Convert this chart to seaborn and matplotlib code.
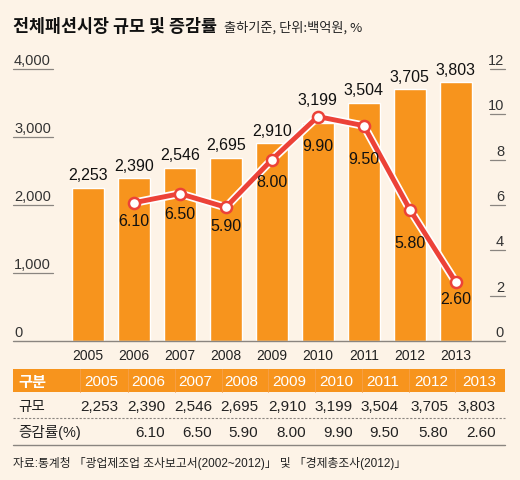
import matplotlib
matplotlib.use("Agg")
import matplotlib.pyplot as plt
import seaborn as sns
import pandas as pd
from matplotlib.patches import Rectangle
from matplotlib.lines import Line2D

# data
years = ["2005", "2006", "2007", "2008", "2009", "2010", "2011", "2012", "2013"]
size = [2253, 2390, 2546, 2695, 2910, 3199, 3504, 3705, 3803]
growth_years = ["2006", "2007", "2008", "2009", "2010", "2011", "2012", "2013"]
growth = [6.10, 6.50, 5.90, 8.00, 9.90, 9.50, 5.80, 2.60]
left_ticks = [0, 1000, 2000, 3000, 4000]
right_ticks = [0, 2, 4, 6, 8, 10, 12]

title = "전체패션시장 규모 및 증감률"
subtitle = "출하기준, 단위:백억원, %"
row_labels = ["구분", "규모", "증감률(%)"]
source = "자료:통계청 「광업제조업 조사보고서(2002~2012)」 및 「경제총조사(2012)」"

BG = "#fdf3e7"
ORANGE = "#f7941d"
RED = "#ec4238"
GRAY = "#8a8580"

sns.set_theme(style="white")
plt.rcParams["font.family"] = ["Liberation Sans", "Noto Sans CJK KR", "DejaVu Sans"]
KR = ["Noto Sans CJK KR", "DejaVu Sans"]

df = pd.DataFrame({"year": years, "size": size})
gdf = pd.DataFrame({"year": growth_years, "growth": growth})
gdf["pos"] = [years.index(y) for y in growth_years]

W, H = 520, 481
fig = plt.figure(figsize=(W / 100, H / 100), dpi=100)
fig.patch.set_facecolor(BG)

def fx(px):
    return px / W

def fy(py):
    return 1 - py / H

# plot area: x 13..505, y 70..342 (pixels from top)
ax = fig.add_axes([fx(13), fy(342), fx(492), 272 / H])
ax.set_facecolor("none")
sns.barplot(data=df, x="year", y="size", color=ORANGE, saturation=1,
            width=0.7, ax=ax, zorder=2)
ax.set_xlim(-1.63, 9.07)
ax.set_ylim(0, 4000)
for s in ax.spines.values():
    s.set_visible(False)
ax.set_yticks([])
ax.set_xlabel("")
ax.set_ylabel("")
ax.tick_params(axis="x", length=0, pad=5, labelsize=10, colors="#222222")

# bar value labels; the 2010 one sits a bit higher to clear the line marker
for i, v in enumerate(size):
    lift = 12 if years[i] == "2010" else 4
    ax.annotate(f"{v:,}", (i, v), xytext=(0, lift), textcoords="offset points",
                ha="center", va="bottom", fontsize=11.5, color="#111111",
                annotation_clip=False, zorder=5)

yt = ax.get_yaxis_transform()
for t in left_ticks:
    if t == 0:
        ax.plot([0, 1], [0, 0], transform=yt, color=GRAY, lw=1, clip_on=False, zorder=3)
    else:
        ax.plot([0, 40 / 492], [t, t], transform=yt, color=GRAY, lw=0.9, clip_on=False)
    ax.text(0.002, t + 135, f"{t:,}", transform=yt, ha="left", va="center",
            fontsize=10.5, color="#333333", clip_on=False)

ax2 = ax.twinx()
ax2.set_ylim(0, 12)
ax2.set_yticks([])
for s in ax2.spines.values():
    s.set_visible(False)
yt2 = ax2.get_yaxis_transform()
for t in right_ticks:
    if t > 0:
        ax2.plot([1 - 15 / 492, 1], [t, t], transform=yt2, color=GRAY, lw=0.9, clip_on=False)
    ax2.text(0.998, t + 0.4, str(t), transform=yt2, ha="right", va="center",
             fontsize=10.5, color="#333333", clip_on=False)

# growth line with white outline
ax2.plot(gdf["pos"], gdf["growth"], color="white", lw=6, zorder=3, solid_joinstyle="round")
sns.lineplot(data=gdf, x="pos", y="growth", color=RED, lw=3.5, ax=ax2, zorder=4,
             marker="o", markersize=8, markerfacecolor="white",
             markeredgecolor=RED, markeredgewidth=1.8)
ax2.set_xlabel("")
ax2.set_ylabel("")
label_drop = [13, 14, 13, 16, 21, 24, 24, 12]  # points below each marker
for p, g, d in zip(gdf["pos"], gdf["growth"], label_drop):
    ax2.annotate(f"{g:.2f}", (p, g), xytext=(0, -d), textcoords="offset points",
                 ha="center", va="center", fontsize=11.5, color="#111111", zorder=5)

# table below the chart
right_edges = [118, 165, 212, 258, 306, 353, 399, 448, 496]
col_edges = [80, 128, 175, 222, 268, 315, 362, 409, 455]
fig.add_artist(Rectangle((fx(13), fy(393)), fx(492), 23 / H, transform=fig.transFigure,
                         facecolor=ORANGE, edgecolor="none"))
for xe in col_edges:
    fig.add_artist(Line2D([fx(xe), fx(xe)], [fy(393), fy(370)], color="#f6a04a", lw=0.6))
fig.add_artist(Line2D([fx(13), fx(505)], [fy(419), fy(419)], color=GRAY, lw=0.8, ls=(0, (2, 1.5))))
fig.add_artist(Line2D([fx(13), fx(505)], [fy(446), fy(446)], color=GRAY, lw=1))

fig.text(fx(18), fy(382), row_labels[0], fontsize=11, color="white", fontweight="bold",
         ha="left", va="center", family=KR)
fig.text(fx(18), fy(407), row_labels[1], fontsize=10.5, color="#222222", ha="left", va="center", family=KR)
fig.text(fx(18), fy(433), row_labels[2], fontsize=10.5, color="#222222", ha="left", va="center")
for i, y in enumerate(years):
    fig.text(fx(right_edges[i]), fy(382), y, fontsize=11, color="white", ha="right", va="center")
    fig.text(fx(right_edges[i]), fy(407), f"{size[i]:,}", fontsize=11, color="#222222",
             ha="right", va="center")
for y, g in zip(growth_years, growth):
    i = years.index(y)
    fig.text(fx(right_edges[i]), fy(433), f"{g:.2f}", fontsize=11, color="#222222",
             ha="right", va="center")

# title, subtitle, source
t = fig.text(fx(13), fy(27), title, fontsize=12.5, fontweight="bold", color="#111111",
             ha="left", va="center", family=KR)
fig.canvas.draw()
bb = t.get_window_extent()
fig.text((bb.x1 + 7) / W, fy(28), subtitle, fontsize=9.5, color="#222222",
         ha="left", va="center", family=KR)
fig.text(fx(13), fy(464), source, fontsize=8.5, color="#222222", ha="left", va="center")

fig.savefig("out.png", dpi=100, facecolor=BG)
